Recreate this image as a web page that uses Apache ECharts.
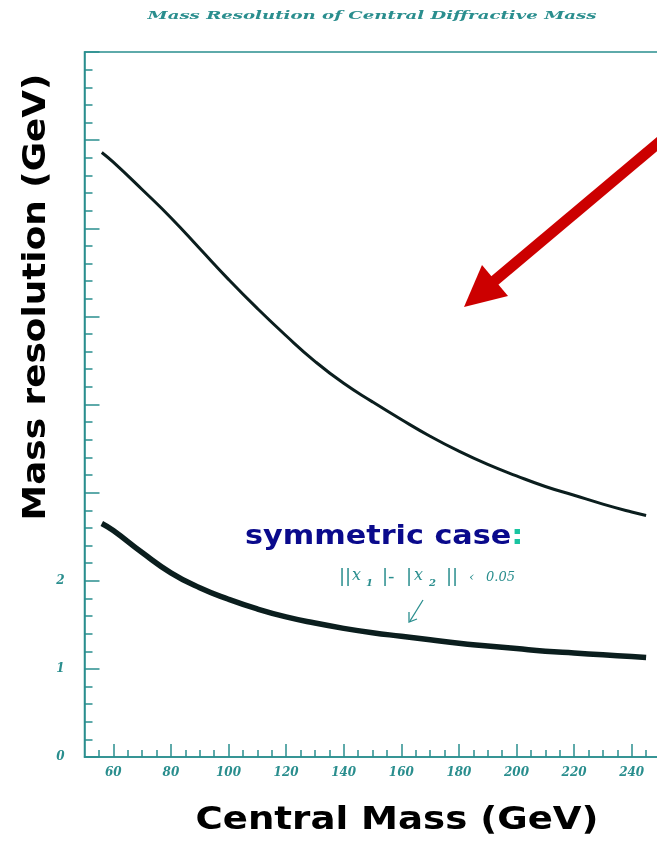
<!DOCTYPE html>
<html>
<head>
<meta charset="utf-8">
<script src="https://cdn.jsdelivr.net/npm/echarts@6/dist/echarts.min.js"></script>
<style>
  html, body { margin: 0; padding: 0; background: #ffffff; }
  #chart { width: 657px; height: 843px; }
</style>
</head>
<body>
<div id="chart"></div>
<script>
// Central mass (GeV) sample points and mass resolution (GeV) for the two cases
const upperMass = [56, 60, 70, 80, 90, 100, 110, 120, 130, 140, 150, 160, 170, 180, 190, 200, 210, 220, 230, 240, 245];
const upperRes  = [6.86, 6.75, 6.44, 6.12, 5.77, 5.42, 5.09, 4.78, 4.49, 4.24, 4.03, 3.83, 3.64, 3.47, 3.32, 3.19, 3.07, 2.97, 2.87, 2.78, 2.74];

const symMass = [56, 60, 70, 80, 90, 100, 110, 120, 130, 140, 150, 160, 170, 180, 190, 200, 210, 220, 230, 240, 245];
const symRes  = [2.65, 2.57, 2.32, 2.09, 1.92, 1.79, 1.68, 1.59, 1.52, 1.46, 1.41, 1.37, 1.33, 1.29, 1.26, 1.23, 1.20, 1.18, 1.16, 1.14, 1.13];

const xMajorTicks = [60, 80, 100, 120, 140, 160, 180, 200, 220, 240];
const xMinorTicks = [55, 65, 70, 75, 85, 90, 95, 105, 110, 115, 125, 130, 135, 145, 150, 155,
                     165, 170, 175, 185, 190, 195, 205, 210, 215, 225, 230, 235, 245];
const yLabelled = [0, 1, 2];

const axisTeal = '#2a8e8e';
const tickFont = { color: axisTeal, fontFamily: 'DejaVu Serif', fontStyle: 'italic', fontWeight: 'bold', fontSize: 12 };

const pairs = (xs, ys) => xs.map((x, i) => [x, ys[i]]);

// pieces of the selection cut  ||x1| - |x2|| < 0.05
function cutText(str, x, y, font) {
  return { type: 'text', x: x, y: y, style: { text: str, fill: axisTeal, font: font, align: 'left', verticalAlign: 'middle' } };
}
const bigBar = '18px "DejaVu Sans"';
const italicX = 'italic 16px "DejaVu Serif"';
const subFont = 'italic bold 10px "DejaVu Serif"';
const numFont = 'italic 13px "DejaVu Serif"';

const chart = echarts.init(document.getElementById('chart'), null, { renderer: 'canvas' });

chart.setOption({
  animation: false,
  backgroundColor: '#ffffff',
  grid: {
    left: 84.5, top: 52, width: 576, height: 705,
    show: true, borderColor: axisTeal, borderWidth: 1.5,
    containLabel: false, outerBoundsMode: 'none'
  },
  xAxis: [
    {
      type: 'value', min: 50, max: 250, position: 'bottom',
      axisLine: { show: true, lineStyle: { color: axisTeal, width: 1.5 } },
      axisTick: { show: true, inside: true, length: 13, customValues: xMajorTicks, lineStyle: { color: axisTeal, width: 1.5 } },
      axisLabel: Object.assign({ show: true, margin: 10, customValues: xMajorTicks }, tickFont),
      splitLine: { show: false }
    },
    {
      type: 'value', min: 50, max: 250, position: 'bottom',
      axisLine: { show: false },
      axisTick: { show: true, inside: true, length: 7, customValues: xMinorTicks, lineStyle: { color: axisTeal, width: 1.5 } },
      axisLabel: { show: false },
      splitLine: { show: false }
    }
  ],
  yAxis: {
    type: 'value', min: 0, max: 8, interval: 1,
    axisLine: { show: true, lineStyle: { color: axisTeal, width: 1.5 } },
    axisTick: { show: true, inside: true, length: 15, lineStyle: { color: axisTeal, width: 1.5 } },
    minorTick: { show: true, splitNumber: 5, length: 8, lineStyle: { color: axisTeal, width: 1.5 } },
    axisLabel: Object.assign({
      show: true, margin: 20,
      formatter: v => (yLabelled.indexOf(v) >= 0 ? String(v) : '')
    }, tickFont),
    splitLine: { show: false },
    minorSplitLine: { show: false }
  },
  series: [
    {
      name: 'all events', type: 'line', smooth: true, symbol: 'none',
      xAxisIndex: 0,
      lineStyle: { color: '#0b1e1e', width: 3 },
      data: pairs(upperMass, upperRes)
    },
    {
      name: 'symmetric case', type: 'line', smooth: true, symbol: 'none',
      xAxisIndex: 0,
      lineStyle: { color: '#0b1e1e', width: 5.5 },
      data: pairs(symMass, symRes)
    }
  ],
  graphic: [
    {
      type: 'text', x: 372, y: 16, scaleX: 1.65, scaleY: 1,
      style: {
        text: 'Mass Resolution of Central Diffractive Mass',
        fill: axisTeal, font: 'italic bold 11px "DejaVu Serif"',
        align: 'center', verticalAlign: 'middle'
      }
    },
    {
      type: 'text', x: 37, y: 297, rotation: Math.PI / 2, scaleX: 1.12,
      style: {
        text: 'Mass resolution (GeV)', fill: '#000000',
        font: 'bold 32px "DejaVu Sans"', align: 'center', verticalAlign: 'middle'
      }
    },
    {
      type: 'text', x: 397, y: 821, scaleX: 1.16,
      style: {
        text: 'Central Mass (GeV)', fill: '#000000',
        font: 'bold 32px "DejaVu Sans"', align: 'center', verticalAlign: 'middle'
      }
    },
    {
      type: 'text', x: 245, y: 537, scaleX: 1.12,
      style: {
        text: '{a|symmetric case}{b|:}',
        align: 'left', verticalAlign: 'middle',
        rich: {
          a: { fill: '#0a0a8c', font: 'bold 27px "DejaVu Sans"' },
          b: { fill: '#18c4a0', font: 'bold 27px "DejaVu Sans"' }
        }
      }
    },
    cutText('||', 339, 577, bigBar),
    cutText('x', 352, 576, italicX),
    cutText('1', 366, 583, subFont),
    cutText('|-', 382, 577, bigBar),
    cutText('|', 406, 577, bigBar),
    cutText('x', 414, 576, italicX),
    cutText('2', 429, 583, subFont),
    cutText('||', 446, 577, bigBar),
    cutText('\u2039', 469, 578, numFont),
    cutText('0.05', 486, 578, numFont),
    {
      type: 'line', shape: { x1: 423, y1: 600, x2: 410, y2: 621 },
      style: { stroke: axisTeal, lineWidth: 1.3 }
    },
    {
      type: 'polyline', shape: { points: [[409, 612], [409, 622], [417, 619]] },
      style: { stroke: axisTeal, lineWidth: 1.3, fill: null }
    },
    {
      type: 'line', shape: { x1: 700, y1: 108, x2: 493, y2: 282 },
      style: { stroke: '#cc0000', lineWidth: 11 }
    },
    {
      type: 'polygon', shape: { points: [[464, 307], [482, 265], [508, 296]] },
      style: { fill: '#cc0000' }
    }
  ]
});
</script>
</body>
</html>
